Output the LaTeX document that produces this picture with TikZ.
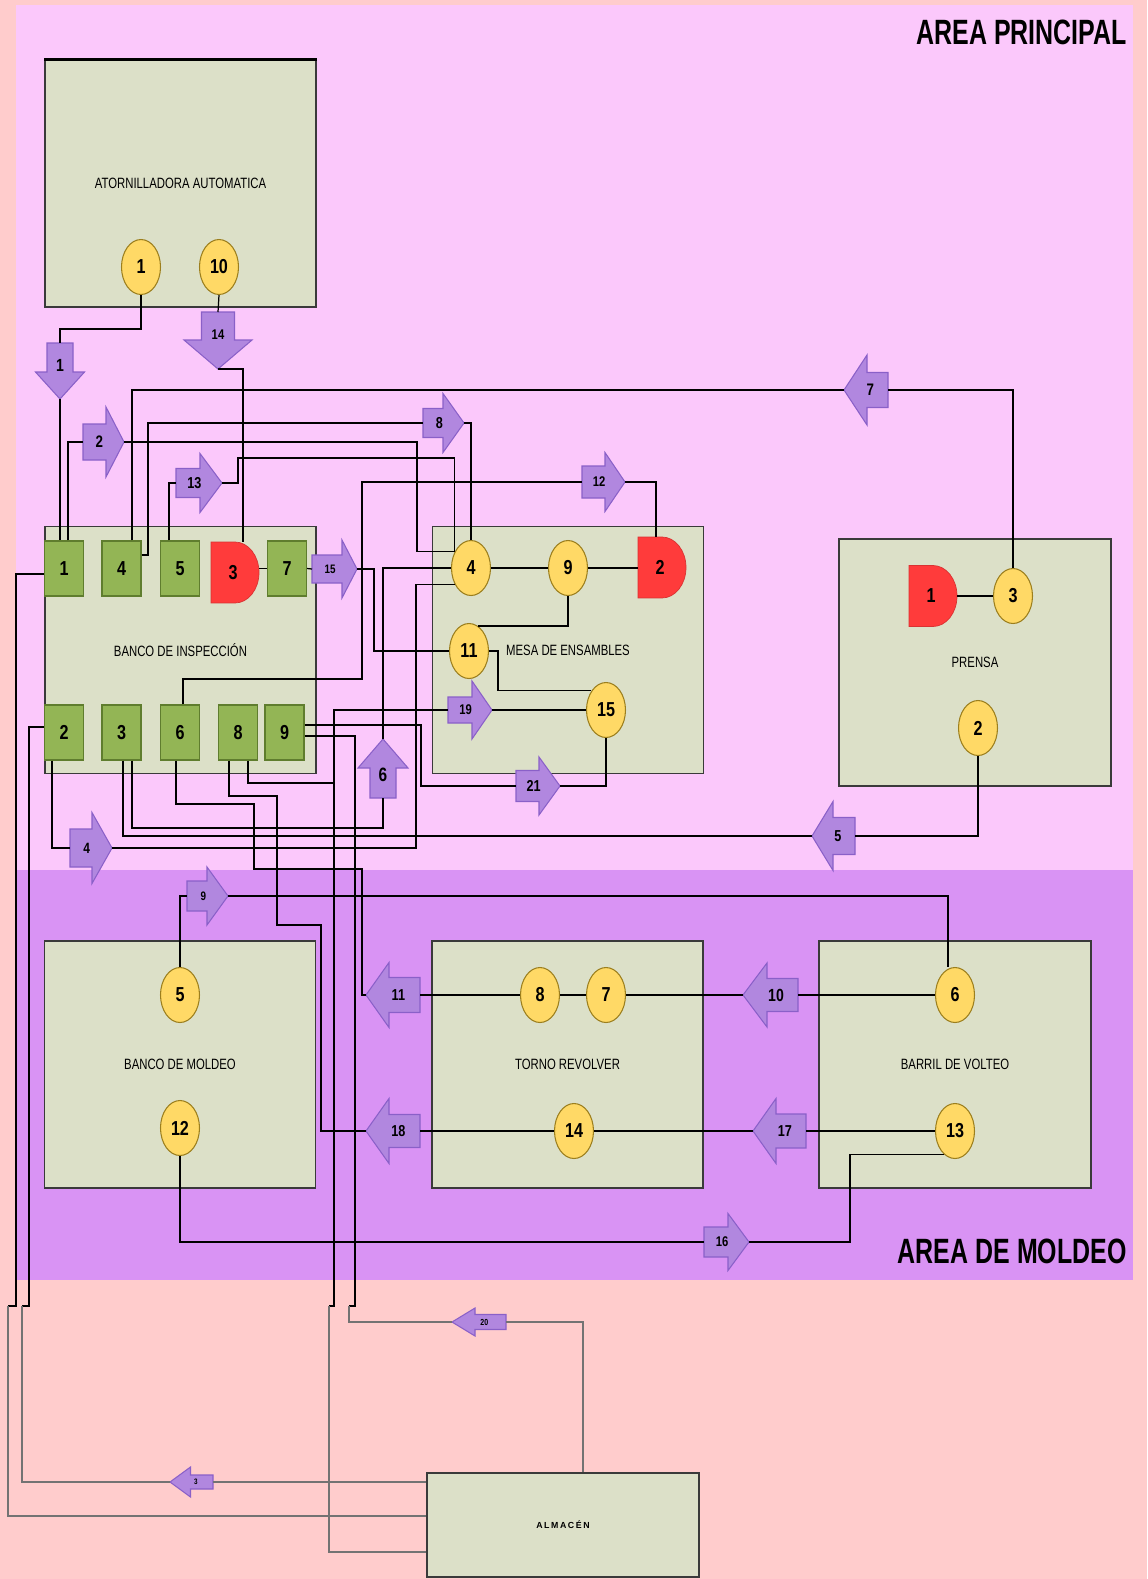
\documentclass[tikz,border=0pt]{standalone}
\usepackage{fontspec}
\setmainfont{Liberation Sans}
\usepackage{graphicx}
\usetikzlibrary{shapes.geometric}
\definecolor{salmonbg}{HTML}{FFCCCC}
\definecolor{principalbg}{HTML}{FBC8FB}
\definecolor{moldeobg}{HTML}{D993F4}
\definecolor{boxfill}{HTML}{DCE0C8}
\definecolor{boxline}{HTML}{3A3A3A}
\definecolor{sqfill}{HTML}{93B555}
\definecolor{sqline}{HTML}{5F7D2E}
\definecolor{circfill}{HTML}{FFD966}
\definecolor{circline}{HTML}{9C7F1E}
\definecolor{dred}{HTML}{FF3B3B}
\definecolor{arrowfill}{HTML}{B187DF}
\definecolor{arrowline}{HTML}{8A60C8}
\newcommand{\nb}[1]{\scalebox{0.8}[1]{#1}}
\newcommand{\lbl}[1]{\scalebox{0.76}[1]{#1}}
\tikzset{
  machine/.style={draw=boxline, fill=boxfill, line width=0.8pt, minimum width=5.42cm,
    minimum height=4.94cm, inner sep=0pt, font=\fontsize{8.5}{9}\selectfont},
  opcirc/.style={ellipse, draw=circline, fill=circfill, line width=0.6pt, minimum width=0.78cm,
    minimum height=1.1cm, inner sep=0pt, font=\fontsize{11.5}{12}\selectfont\bfseries},
  inspsq/.style={draw=sqline, fill=sqfill, line width=0.6pt, minimum width=0.78cm,
    minimum height=1.1cm, inner sep=0pt, font=\fontsize{11.5}{12}\selectfont\bfseries},
  dshape/.style={fill=dred, draw=dred!85!black, line width=0.4pt},
  waitd/.style={minimum width=0.96cm, minimum height=1.22cm, inner sep=0pt,
    font=\fontsize{11.5}{12}\selectfont\bfseries},
  link/.style={line width=0.7pt, black},
  boldlink/.style={line width=1.4pt, black},
  lowlink/.style={line width=0.6pt, black!55},
  blockarr/.style={fill=arrowfill, draw=arrowline, line width=0.6pt},
  areatitle/.style={anchor=east, inner sep=0pt, font=\fontsize{20}{20}\selectfont\bfseries}
}
\begin{document}
\begin{tikzpicture}[x=0.02cm,y=-0.02cm]
  \useasboundingbox (0,0) rectangle (1147,1579);
  % zonas
  \fill[salmonbg] (0,0) rectangle (1147,1579);
  \fill[principalbg] (16,5) rectangle (1133,870);
  \fill[moldeobg] (16,870) rectangle (1133,1280);
  \node[areatitle] (tprin) at (1127,32) {\scalebox{0.71}[1]{AREA PRINCIPAL}};
  \node[areatitle] (tmold) at (1127,1251) {\scalebox{0.71}[1]{AREA DE MOLDEO}};

  % maquinas
  \node[machine] (atorn) at (180.5,183.5) {\lbl{ATORNILLADORA AUTOMATICA}};
  \draw[line width=1.5pt] (atorn.north west) -- (atorn.north east);
  \node[machine] (insp) at (180.5,650) {\lbl{BANCO DE INSPECCIÓN}};
  \node[machine] (mesa) at (568,650) {\lbl{MESA DE ENSAMBLES}};
  \node[machine, minimum width=5.44cm] (prensa) at (975,662.5) {\lbl{PRENSA}};
  \node[machine] (bmoldeo) at (180,1064.5) {\lbl{BANCO DE MOLDEO}};
  \node[machine] (torno) at (567.5,1064.5) {\lbl{TORNO REVOLVER}};
  \node[machine, minimum width=5.44cm] (barril) at (955,1064.5) {\lbl{BARRIL DE VOLTEO}};
  \node[machine, minimum width=5.44cm, minimum height=2.08cm,
    font=\fontsize{5}{6}\selectfont\bfseries\addfontfeature{LetterSpace=18}] (almacen) at (563,1525) {ALMACÉN};

  % operaciones
  \node[opcirc] (at1) at (141,267) {\nb{1}};
  \node[opcirc] (at10) at (219,267) {\nb{10}};
  \node[opcirc] (me4) at (471,568) {\nb{4}};
  \node[opcirc] (me9) at (568,568) {\nb{9}};
  \node[opcirc] (me11) at (469,651) {\nb{11}};
  \node[opcirc] (me15) at (606,710) {\nb{15}};
  \node[opcirc] (pr3) at (1013,596) {\nb{3}};
  \node[opcirc] (pr2) at (978,728) {\nb{2}};
  \node[opcirc] (bm5) at (180,995) {\nb{5}};
  \node[opcirc] (bm12) at (180,1128) {\nb{12}};
  \node[opcirc] (to8) at (540,995) {\nb{8}};
  \node[opcirc] (to7) at (606,995) {\nb{7}};
  \node[opcirc] (to14) at (574,1131) {\nb{14}};
  \node[opcirc] (ba6) at (955,995) {\nb{6}};
  \node[opcirc] (ba13) at (955,1131) {\nb{13}};

  % inspecciones y demoras
  \foreach \nm/\xx/\yy in {1/64/568.5, 4/121.5/568.5, 5/180/568.5, 7/287/568.5,
      2/64/732.5, 3/121.5/732.5, 6/180/732.5, 8/238/732.5, 9/284.5/732.5}
    \node[inspsq] (sq\nm) at (\xx,\yy) {\nb{\nm}};
  \foreach \nm/\xx/\yy in {3/211/542, 2/638/537, 1/909/565.5}{
    \draw[dshape] (\xx,\yy) -- ++(24,0) arc[start angle=90, end angle=-90, x radius=0.48cm, y radius=0.61cm]
      -- ++(-24,0) -- cycle;
    \node[waitd] (d\nm) at ({\xx+24},{\yy+30.5}) {};
    \node[font=\fontsize{11.5}{12}\selectfont\bfseries, inner sep=0pt] at ({\xx+22},{\yy+30.5}) {\nb{\nm}};
  }

  % flechas de transporte
  \foreach \nm/\tx/\ty/\ang/\len/\hd/\bw/\hw/\lab/\fs in {
      fa1/60/343/-90/56/27/13/24.5/1/10, fa14/218/312/-90/57/29/16.5/34/14/8,
      fa2/83/442/0/41/18/18/35/2/9.5, fa8/423/423/0/41/21/14.5/29.5/8/9,
      fa13/176/483/0/46/22/14.5/29.5/13/9, fa12/582/482/0/43/20/16/29.5/12/8,
      fa7/888/390/180/44/23/17.5/35/7/9.5, fa15/312/569/0/45/15/14/29/15/7,
      fa19/448/710/0/44/20/13/29/19/8, fa21/516/786/0/44/21/15.5/29/21/9,
      fa6/383/798/90/59/29/13/25/6/11, fa4/70/848/0/42/20/19/35.5/4/8.5,
      fa5/855/836/180/43/21/18.5/34.5/5/9, fa9/187/896/0/41/21/15/29/9/7,
      fa11/420/995/180/54/23/17.5/32.5/11/9, fa18/420/1131/180/54/23/16.5/32.5/18/9,
      fa10/798/995/180/55/24/16.5/32/10/10, fa17/806/1131/180/53/23/17/32.5/17/9,
      fa16/704/1242/0/45/21/15/28.5/16/8, fa20/506/1322/180/54/23/7.5/14/20/5,
      fa3/213/1482/180/43/20.5/7/15/3/4.5}{
    \begin{scope}[shift={(\tx,\ty)}, rotate=\ang]
      \draw[blockarr] (0,-\bw) -- ({\len-\hd},-\bw) -- ({\len-\hd},-\hw) -- (\len,0)
        -- ({\len-\hd},\hw) -- ({\len-\hd},\bw) -- (0,\bw) -- cycle;
      \coordinate (\nm tail) at (0,0);
      \coordinate (\nm tip) at (\len,0);
      \node[inner sep=0pt, font=\fontsize{\fs}{\fs}\selectfont\bfseries] (\nm) at ({0.4*\len},0) {\nb{\lab}};
    \end{scope}
  }

  % recorrido: atornilladora
  \draw[link] (at1.south) |- (60,329) -- (fa1tail);
  \draw[link] (fa1tip) -- (fa1tip |- sq1.north);
  \draw[link] (at10.south) -- (fa14tail);
  \draw[link] (fa14tip) -| (d3.north -| 243,0);

  % recorrido: banco de inspeccion, fila superior
  \draw[link] (sq1.north -| 68,0) |- (fa2tail);
  \draw[link] (fa2tip) -| (me4.135 -| 417,0) -- (me4.135);
  \draw[link] (sq4.north -| 132,0) |- (fa7tip);
  \draw[link] (fa7tail) -| (pr3.north);
  \draw[link] (sq4.east |- 0,555) -- (148,555) |- (fa8tail);
  \draw[link] (fa8tip) -| (me4.north);
  \draw[link] (sq5.north -| 169,0) |- (fa13tail);
  \draw[link] (fa13tip) -- (238,483) |- (me4.135 |- 0,458) -- (me4.135);
  \draw[link] (sq6.north -| 183,0) |- (362,679) |- (fa12tail);
  \draw[link] (fa12tip) -| (d2.north -| 656,0);
  \draw[link] (sq7.east) -- (fa15tail);
  \draw[link] (fa15tip) -| (me11.west -| 374,0) -- (me11.west);
  \draw[link] (d3.east |- sq7.west) -- (sq7.west);

  % mesa de ensambles y prensa
  \draw[boldlink] (me4.east) -- (me9.west);
  \draw[boldlink] (me9.east) -- (d2.west |- me9.east);
  \draw[link] (me9.south) |- (me11.70);
  \draw[link] (me11.east) -| (me15.127 -| 498,0) -- (me15.127);
  \draw[link] (fa19tip) -- (me15.west);
  \draw[link] (fa21tip) -| (me15.south);
  \draw[boldlink] (d1.east) -- (pr3.west |- d1.east);

  % recorrido: banco de inspeccion, fila inferior
  \draw[link] (sq9.east |- 0,725) -| (fa21tail -| 421,0) -- (fa21tail);
  \draw[link] (sq2.south -| 52,0) |- (fa4tail);
  \draw[link] (fa4tip) -| (me4.225 -| 416,0) -- (me4.225);
  \draw[link] (sq3.south -| 132,0) |- (fa6tail |- 0,828) -- (fa6tail);
  \draw[link] (fa6tip) |- (me4.west);
  \draw[link] (sq3.south -| 123,0) |- (fa5tip);
  \draw[link] (fa5tail) -| (pr2.south);
  \draw[link] (sq6.south -| 176,0) |- (254,804) |- (362,869) |- (fa11tip);
  \draw[link] (sq8.south -| 229,0) |- (277,796) |- (321,925) |- (fa18tip);
  \coordinate (j8) at (334,783);
  \draw[link] (sq8.south -| 248,0) |- (j8);

  % hacia el almacen
  \draw[link] (fa19tail) -| (334,1306) -- (329,1306);
  \draw[lowlink] (329,1306) |- (almacen.west |- 0,1552);
  \draw[link] (sq9.east |- 0,736) -| (355,1306) -- (349,1306);
  \draw[lowlink] (349,1306) |- (fa20tip);
  \draw[lowlink] (fa20tail) -| (almacen.north -| 583,0);
  \draw[link] (sq1.west |- 0,574) -| (16,1306) -- (8,1306);
  \draw[lowlink] (8,1306) |- (almacen.west |- 0,1516);
  \draw[link] (sq2.west |- 0,727) -| (29,1306) -- (22,1306);
  \draw[lowlink] (22,1306) |- (fa3tip);
  \draw[lowlink] (fa3tail) -- (almacen.west |- fa3tail);

  % area de moldeo
  \draw[link] (fa11tail) -- (to8.west);
  \draw[link] (to8.east) -- (to7.west);
  \draw[link] (to7.east) -- (fa10tip);
  \draw[link] (fa10tail) -- (ba6.west);
  \draw[link] (fa18tail) -- (to14.west);
  \draw[link] (to14.east) -- (fa17tip);
  \draw[link] (fa17tail) -- (ba13.west);
  \draw[link] (ba13.245) -| (fa16tip -| 850,0) -- (fa16tip);
  \draw[link] (bm12.south) |- (fa16tail);
  \draw[link] (bm5.north) |- (fa9tail);
  \draw[boldlink] (fa9tip) -| (ba6.north -| 948,0);
\end{tikzpicture}
\end{document}
